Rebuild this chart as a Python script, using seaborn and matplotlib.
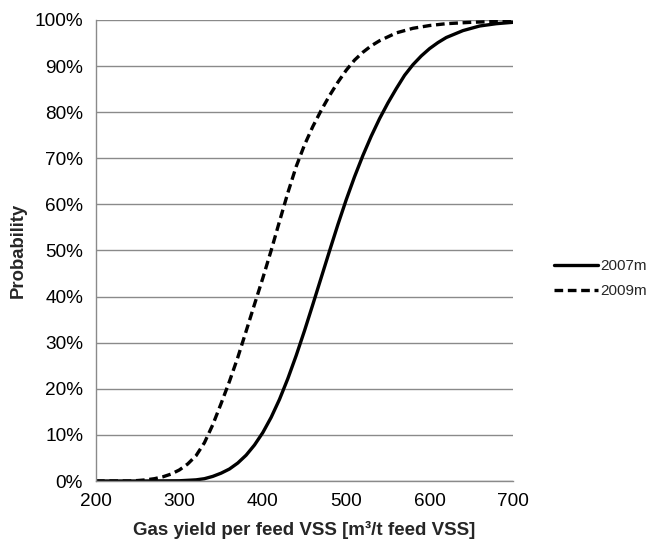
import numpy as np
import pandas as pd
import matplotlib
matplotlib.use("Agg")
import matplotlib.pyplot as plt
import seaborn as sns
from matplotlib.ticker import MultipleLocator, PercentFormatter

# Data (gas yield m3/t, cumulative probability %)
x_2007 = [200, 250, 300, 320, 330, 340, 350, 360, 370, 380, 390, 400, 410, 420, 430,
          440, 450, 460, 470, 480, 490, 500, 510, 520, 530, 540, 550, 560, 570, 580,
          590, 600, 610, 620, 640, 660, 680, 700]
p_2007 = [0, 0, 0.05, 0.25, 0.5, 1.0, 1.7, 2.6, 3.9, 5.6, 7.8, 10.5, 13.8, 17.7, 22.2,
          27.2, 32.6, 38.3, 44.1, 49.9, 55.6, 61.0, 66.0, 70.6, 74.8, 78.6, 82.0, 85.1,
          88.0, 90.3, 92.2, 93.8, 95.1, 96.2, 97.7, 98.7, 99.2, 99.5]

x_2009 = [200, 240, 250, 260, 270, 280, 290, 300, 310, 320, 330, 340, 350, 360, 370,
          380, 390, 400, 410, 420, 430, 440, 450, 460, 470, 480, 490, 500, 510, 520,
          530, 540, 560, 580, 600, 620, 650, 700]
p_2009 = [0, 0, 0.1, 0.25, 0.5, 0.9, 1.5, 2.4, 3.7, 5.5, 8.3, 12.2, 16.8, 21.6, 26.8,
          32.5, 38.3, 44.0, 50.0, 56.3, 62.5, 68.2, 72.9, 76.9, 80.4, 83.6, 86.5, 89.1,
          91.3, 93.0, 94.4, 95.5, 97.2, 98.2, 98.8, 99.2, 99.5, 99.8]

series_names = ["2007m", "2009m"]

df = pd.concat([
    pd.DataFrame({"x": x_2007, "p": p_2007, "series": series_names[0]}),
    pd.DataFrame({"x": x_2009, "p": p_2009, "series": series_names[1]}),
], ignore_index=True)

sns.set_style("white")
plt.rcParams["font.family"] = ["Liberation Sans", "DejaVu Sans"]

fig = plt.figure(figsize=(6.47, 5.40), dpi=100)
ax = fig.add_axes([96 / 647, 1 - 481 / 540, (513 - 96) / 647, (481 - 20) / 540])

sns.lineplot(data=df, x="x", y="p", hue="series", style="series",
             palette={"2007m": "black", "2009m": "black"},
             dashes={"2007m": "", "2009m": (2.6, 1.4)},
             linewidth=2.4, ax=ax, legend=True, sort=False)
for ln in ax.get_lines():
    ln.set_solid_joinstyle("round")
    ln.set_dash_joinstyle("round")

ax.set_xlim(200, 700)
ax.set_ylim(0, 100)
ax.xaxis.set_major_locator(MultipleLocator(100))
ax.xaxis.set_minor_locator(MultipleLocator(20))
ax.yaxis.set_major_locator(MultipleLocator(10))
ax.yaxis.set_minor_locator(MultipleLocator(2))
ax.yaxis.set_major_formatter(PercentFormatter(decimals=0))

ax.grid(axis="y", which="major", color="#8a8a8a", linewidth=1.0)
ax.grid(axis="x", visible=False)
ax.set_axisbelow(True)

for s in ["top", "right"]:
    ax.spines[s].set_visible(False)
for s in ["left", "bottom"]:
    ax.spines[s].set_color("#8a8a8a")
    ax.spines[s].set_linewidth(1.0)

ax.tick_params(axis="both", which="major", direction="out", length=4.3, width=1,
               color="#8a8a8a", labelsize=13.7, labelcolor="black")
ax.tick_params(axis="both", which="minor", direction="out", length=2.5, width=1,
               color="#8a8a8a")
ax.tick_params(axis="y", which="major", pad=5)
ax.tick_params(axis="x", which="major", pad=4)

ax.set_xlabel("Gas yield per feed VSS [m³/t feed VSS]", fontsize=13.5,
              fontweight="bold", labelpad=8)
ax.set_ylabel("Probability", fontsize=13.3, fontweight="bold", labelpad=5.5)

handles, labels = ax.get_legend_handles_labels()
ax.legend(handles=handles, labels=labels, loc="center left",
          bbox_to_anchor=(1.065, 0.439), frameon=False, fontsize=11,
          handlelength=2.9, handletextpad=0.15, labelspacing=0.75)

fig.savefig("out.png", dpi=100)
